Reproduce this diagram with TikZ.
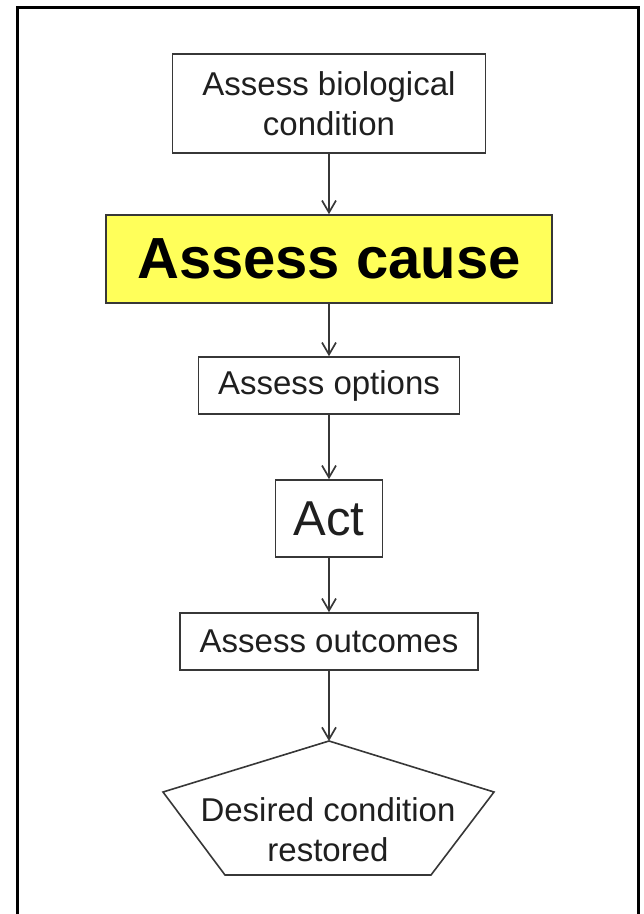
\documentclass[tikz,border=0pt]{standalone}
\usepackage{fontspec}
\setmainfont{Liberation Sans}
\usetikzlibrary{arrows.meta}
\definecolor{boxline}{RGB}{55,55,55}
\definecolor{causeyellow}{RGB}{255,255,90}
\tikzset{
  stepbox/.style={draw=boxline, line width=1.6pt, inner sep=0pt, align=center,
                  text=black!88, font=\fontsize{33}{40}\selectfont},
  flow/.style={draw=boxline, line width=1.7pt,
               -{Straight Barb[length=12pt, width=14pt, line width=1.7pt]}},
}
\begin{document}
\begin{tikzpicture}[x=1pt, y=-1pt]
            \useasboundingbox (0,0) rectangle (644,914);
            % Rahmen (unten offen)
            \draw [line width=3pt] (17,914) -- (17,7) -- (638,7) -- (638,914);
            % Schritte
            \node [stepbox, minimum width=313pt, minimum height=99pt] (bio) at (329,103.5) {Assess biological\\condition};
            \node [stepbox, fill=causeyellow, minimum width=446pt, minimum height=88pt, text=black,
                   font=\fontsize{58}{66}\selectfont\bfseries] (cause) at (329,259) {Assess cause};
            \node [stepbox, minimum width=261pt, minimum height=57pt] (options) at (329,385.5) {Assess options};
            \node [stepbox, minimum width=107pt, minimum height=77pt,
                   font=\fontsize{49}{56}\selectfont] (act) at (329,518.5) {Act};
            \node [stepbox, minimum width=298pt, minimum height=57pt] (outcome) at (329,641.5) {Assess outcomes};
            % Ziel
            \coordinate (goaltop) at (329,741);
            \draw [boxline, line width=1.6pt, fill=white] (goaltop) -- (494,792) -- (431,875) -- (225,875) -- (163,792) -- cycle;
            \node [align=center, text=black!88, font=\fontsize{33}{40}\selectfont] (goal) at (328,830) {Desired condition\\restored};
            % Pfeile
            \draw [flow] (bio) -- (cause);
            \draw [flow] (cause) -- (options);
            \draw [flow] (options) -- (act);
            \draw [flow] (act) -- (outcome);
            \draw [flow] (outcome) -- (goaltop);
        \end{tikzpicture}
\end{document}
